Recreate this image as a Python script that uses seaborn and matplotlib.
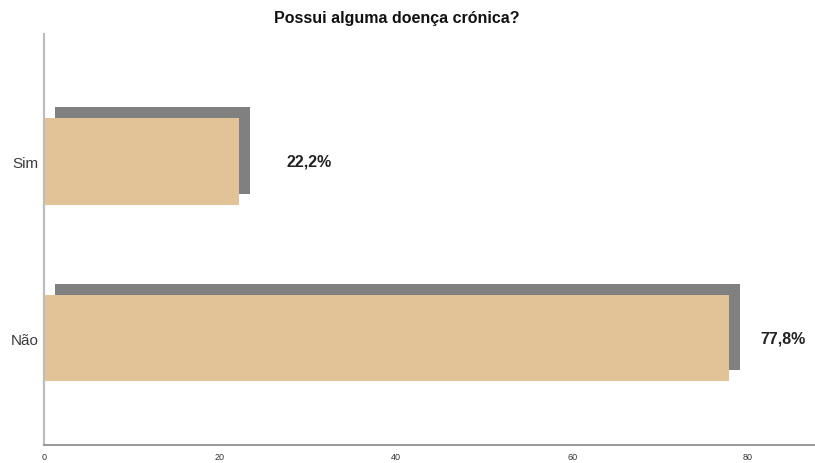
import matplotlib
matplotlib.use("Agg")
import matplotlib.pyplot as plt
import matplotlib.transforms as mtransforms
import seaborn as sns
import pandas as pd

# Respostas e percentagens
categorias = ["Sim", "Não"]
percentagens = [22.2, 77.8]
rotulos = ["22,2%", "77,8%"]
ticks_x = [0, 20, 40, 60, 80]

df = pd.DataFrame({"resposta": categorias, "pct": percentagens})

sns.set_theme(style="white")
plt.rcParams["font.family"] = ["Liberation Sans", "DejaVu Sans"]

fig = plt.figure(figsize=(8.15, 4.64), dpi=100)
ax = fig.add_axes([44 / 815, 18 / 464, 1 - 44 / 815, (446 - 35) / 464])

largura = 0.49

# sombra cinzenta deslocada para dar efeito de profundidade
sns.barplot(data=df, y="resposta", x="pct", orient="h", order=categorias,
            color="#808080", saturation=1, width=largura, ax=ax)
n_sombra = len(ax.patches)
desloc = mtransforms.ScaledTranslation(11 / 100, 11 / 100, fig.dpi_scale_trans)
for p in ax.patches[:n_sombra]:
    p.set_transform(ax.transData + desloc)
    p.set_edgecolor("none")

# barras principais
sns.barplot(data=df, y="resposta", x="pct", orient="h", order=categorias,
            color="#E2C398", saturation=1, width=largura, ax=ax)
for p in ax.patches[n_sombra:]:
    p.set_edgecolor("none")

# rótulos de valor
afast = [34, 23]
for i, (v, txt) in enumerate(zip(percentagens, rotulos)):
    ax.annotate(txt, xy=(v, i), xytext=(afast[i], 0), textcoords="offset points",
                ha="left", va="center", fontsize=11.5, fontweight="bold",
                color="#222222")

ax.set_xlim(0, 87.6)
ax.set_ylim(1.606, -0.722)
ax.set_xticks(ticks_x)
ax.set_xticklabels([str(t) for t in ticks_x], fontsize=6.5, color="#333333")
ax.tick_params(axis="y", labelsize=11, labelcolor="#3a3a3a", length=0, pad=4)
ax.tick_params(axis="x", length=0, pad=5)
ax.set_xlabel("")
ax.set_ylabel("")

for lado in ["top", "right"]:
    ax.spines[lado].set_visible(False)
ax.spines["left"].set_color("#bdbdbd")
ax.spines["left"].set_linewidth(1.6)
ax.spines["bottom"].set_color("#9a9a9a")
ax.spines["bottom"].set_linewidth(1.4)

fig.text(397 / 815, 1 - 18 / 464, "Possui alguma doença crónica?", ha="center",
         va="center", fontsize=11.5, fontweight="bold", color="#111111")

fig.savefig("out.png", dpi=100)
